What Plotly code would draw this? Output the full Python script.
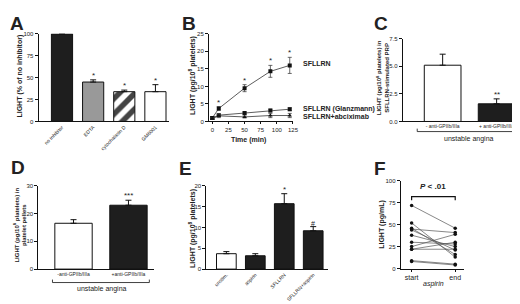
import plotly.graph_objects as go

W, H = 520, 304

# ---- data ----
a_cats = ["no inhibitor", "EDTA", "cytochalasin D", "GM6001"]
a_vals = [100, 45, 34, 34]
a_err = [0, 2.5, 1.8, 8]

b_time = [0, 10, 50, 90, 120]
b_sfllrn = [1.0, 3.7, 9.5, 14.3, 16.0]
b_sfllrn_err = [0.3, 0.5, 1.0, 1.7, 2.3]
b_glanz = [1.0, 1.8, 2.4, 3.1, 3.5]
b_glanz_err = [0.2, 0.3, 0.3, 0.4, 0.4]
b_abcix = [0.8, 1.6, 1.3, 1.7, 1.7]
b_abcix_err = [0.2, 0.5, 0.3, 0.6, 0.6]

c_cats = ["- anti-GPIIb/IIIa", "+ anti-GPIIb/IIIa"]
c_vals = [5.1, 1.6]
c_err = [1.0, 0.45]

d_cats = ["-anti-GPIIb/IIIa", "+anti-GPIIb/IIIa"]
d_vals = [16.5, 23.0]
d_err = [1.3, 1.8]

e_cats = ["unstim.", "aspirin", "SFLLRN", "SFLLRN+aspirin"]
e_vals = [3.7, 3.2, 15.7, 9.2]
e_err = [0.5, 0.5, 2.4, 1.0]

f_cats = ["start", "end"]
f_start = [72, 52, 46, 45, 44, 38, 30, 25, 22, 22, 9, 8]
f_end = [46, 13, 16, 41, 21, 25, 28, 39, 22, 30, 5, 4]

FONT = "Liberation Sans, Arial, sans-serif"
TXT = "#222"

def px(x):
    return x / W

def py(y):
    return 1 - y / H

fig = go.Figure()

def bar_trace(xa, ya, cats, vals, errs, colors, patterns=None):
    fig.add_trace(go.Bar(
        x=cats, y=vals, xaxis=xa, yaxis=ya, width=0.68,
        marker=dict(color=colors, line=dict(color="#111", width=1),
                    pattern=patterns if patterns else None),
        error_y=dict(type="data", array=errs, arrayminus=[0]*len(errs),
                     symmetric=False, color="#111", thickness=1, width=3),
        showlegend=False))

# A
bar_trace("x", "y", a_cats, a_vals, a_err, ["#1e1e1e", "#999999", "white", "white"],
          dict(shape=["", "", "/", ""], fgcolor="#000000", fgopacity=1,
               size=11, solidity=0.5, fillmode="overlay"))
# C
bar_trace("x3", "y3", c_cats, c_vals, c_err, ["white", "#1e1e1e"])
# D
bar_trace("x4", "y4", d_cats, d_vals, d_err, ["white", "#1e1e1e"])
# E
bar_trace("x5", "y5", e_cats, e_vals, e_err, ["white", "#1e1e1e", "#1e1e1e", "#1e1e1e"])

# B
for vals, errs, sym in [(b_sfllrn, b_sfllrn_err, "square"),
                        (b_glanz, b_glanz_err, "square"),
                        (b_abcix, b_abcix_err, "triangle-up")]:
    fig.add_trace(go.Scatter(
        x=b_time, y=vals, xaxis="x2", yaxis="y2", mode="lines+markers",
        line=dict(color="#333", width=0.8),
        marker=dict(symbol=sym, size=4, color="#111"),
        error_y=dict(type="data", array=errs, color="#444", thickness=0.8, width=2),
        showlegend=False))

# F
for s, e in zip(f_start, f_end):
    fig.add_trace(go.Scatter(
        x=f_cats, y=[s, e], xaxis="x6", yaxis="y6", mode="lines+markers",
        line=dict(color="#555", width=0.7),
        marker=dict(symbol="circle", size=3.5, color="#111"),
        showlegend=False))

axis_common = dict(showline=True, linecolor="#111", linewidth=1, showgrid=False,
                   zeroline=False, tickfont=dict(family=FONT, size=6, color=TXT),
                   fixedrange=True)

def yax(top, bottom, rng, dtick, anchor, fmt=None):
    d = dict(axis_common, domain=[py(bottom), py(top)], range=rng, dtick=dtick,
             ticks="outside", ticklen=3, tickwidth=1, tickcolor="#111", anchor=anchor)
    if fmt:
        d["tickformat"] = fmt
    return d

def xax(left, right, rng, anchor, cats=None, angle=0, ticks="", size=6):
    d = dict(axis_common, domain=[px(left), px(right)], range=rng, anchor=anchor,
             tickangle=angle, ticks=ticks, ticklen=2, tickcolor="#111",
             tickfont=dict(family=FONT, size=size, color=TXT))
    if cats is not None:
        d["type"] = "category"
        d["categoryorder"] = "array"
        d["categoryarray"] = cats
    return d

fig.update_layout(
    width=W, height=H, margin=dict(l=0, r=0, t=0, b=0),
    paper_bgcolor="white", plot_bgcolor="white",
    font=dict(family=FONT, color=TXT),
    xaxis=xax(31, 163, [-0.75, 3.44], "y", a_cats, -45, size=5),
    yaxis=yax(23.3, 112.7, [0, 100], 25, "x"),
    xaxis2=dict(xax(203.3, 288.3, [-5.2, 125], "y2", None, 0, "outside"), dtick=25),
    yaxis2=yax(23.3, 112.7, [0, 25], 5, "x2"),
    xaxis3=xax(399.3, 520, [-0.74, 1.47], "y3", c_cats, size=5),
    yaxis3=yax(28.3, 112.7, [0, 7.5], 2.5, "x3", ".1f"),
    xaxis4=xax(30.7, 148, [-0.64, 1.47], "y4", d_cats, size=5),
    yaxis4=yax(178.3, 263.3, [0, 30], 10, "x4"),
    xaxis5=xax(200.7, 324, [-0.69, 3.52], "y5", e_cats, -45, size=5),
    yaxis5=yax(178.3, 263.3, [0, 20], 5, "x5"),
    xaxis6=xax(397.3, 461.7, [-0.25, 1.21], "y6", f_cats, 0, "outside", 7),
    yaxis6=yax(173.3, 262.7, [0, 100], 25, "x6"),
)

ann = []
def note(text, x, y, size=7, angle=0, bold=False, xanchor="center", yanchor="middle", xref="paper", yref="paper"):
    ann.append(dict(text=("<b>%s</b>" % text) if bold else text, x=x, y=y, xref=xref, yref=yref,
                    showarrow=False, textangle=angle, xanchor=xanchor, yanchor=yanchor,
                    font=dict(family=FONT, size=size, color=TXT)))

# panel letters
for L, x, y in [("A", 9, 13), ("B", 183, 13), ("C", 377, 13), ("D", 10, 160), ("E", 180, 161), ("F", 376, 161)]:
    note(L, px(x), py(y), size=19, bold=True)

# y titles
note("LIGHT (% of no inhibitor)", px(12), py(66), 7, -90, True)
note("LIGHT (pg/10<sup>8</sup> platelets)", px(186.5), py(66), 7, -90, True)
note("LIGHT (pg/10<sup>8</sup> platelets) in<br>SFLLRN-stimulated PRP", px(379), py(68), 6, -90, True)
note("LIGHT (pg/10<sup>8</sup> platelets) in<br>platelet pellets", px(12), py(218), 6, -90, True)
note("LIGHT (pg/10<sup>8</sup> platelets)", px(186.5), py(222), 7, -90, True)
note("LIGHT (pg/mL)", px(378.5), py(218), 7, -90, True)

# x titles / labels
note("Time (min)", px(243), py(132), 7, 0, True)
note("SFLLRN", px(296), py(54), 7, 0, True, "left")
note("SFLLRN (Glanzmann)", px(296), py(99.5), 7, 0, True, "left")
note("SFLLRN+abciximab", px(296), py(107.5), 7, 0, True, "left")
note("unstable angina", px(466), py(130.5), 7)
note("unstable angina", px(95), py(283.5), 7)
note("<i>aspirin</i>", px(430), py(279), 7)
note("<b><i>P</i> < .01</b>", px(430), py(186), 8, yanchor="bottom")

# significance marks above error bars
def sig(text, x, y, xr, yr, size=8):
    ann.append(dict(text=text, x=x, y=y, xref=xr, yref=yr, showarrow=False,
                    yanchor="bottom", yshift=-2, font=dict(family=FONT, size=size, color=TXT)))

for c, v, e in zip(a_cats[1:], a_vals[1:], a_err[1:]):
    sig("*", c, v + e, "x", "y")
for t, v, e in zip(b_time[1:], b_sfllrn[1:], b_sfllrn_err[1:]):
    sig("*", t, v + e, "x2", "y2")
sig("**", c_cats[1], c_vals[1] + c_err[1], "x3", "y3")
sig("***", d_cats[1], d_vals[1] + d_err[1], "x4", "y4")
sig("*", e_cats[2], e_vals[2] + e_err[2], "x5", "y5")
sig("#", e_cats[3], e_vals[3] + e_err[3], "x5", "y5", 7)

fig.update_layout(annotations=ann)

# brackets
def bracket(x0, x1, y, up=3):
    fig.add_shape(type="path", xref="paper", yref="paper",
                  path="M %f %f L %f %f L %f %f L %f %f" % (px(x0), py(y - up), px(x0), py(y), px(x1), py(y), px(x1), py(y - up)),
                  line=dict(color="#111", width=0.8))

bracket(414, 519, 123)
bracket(45, 143, 277)
# P-value bracket (data coords of panel F)
fig.add_shape(type="path", xref="x6", yref="y6",
              path="M 0 78 L 0 82 L 1 82 L 1 78", line=dict(color="#111", width=1.2))

fig.write_html("out.html")
